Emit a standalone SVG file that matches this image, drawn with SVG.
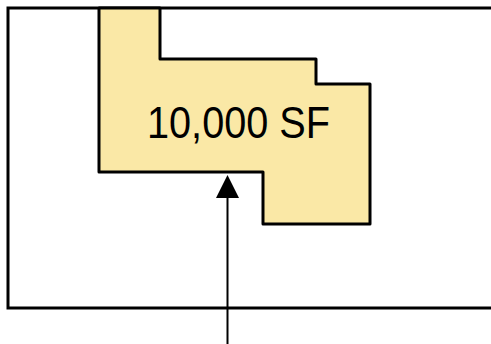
<svg xmlns="http://www.w3.org/2000/svg" width="491" height="344" viewBox="0 0 491 344">
<defs>
<style>
.bound{fill:#ffffff;stroke:#000;stroke-width:3}
.area{fill:#FAE8A6;stroke:#000;stroke-width:3;stroke-linejoin:round}
.lbl{font-family:"Liberation Sans",Arial,sans-serif;font-size:44px;fill:#000}
.conn{stroke:#000;stroke-width:2;fill:none}
</style>
<marker id="ah" viewBox="0 0 26 23" refX="0" refY="11.5" markerWidth="26" markerHeight="23" markerUnits="userSpaceOnUse" orient="auto">
<path d="M0,0 L23,11.5 L0,23 Z" fill="#000"/>
</marker>
</defs>
<g id="site">
<rect class="bound" x="8" y="8" width="490" height="300"/>
</g>
<g id="building">
<polygon class="area" points="99,8 160,8 160,59 316,59 316,84 370,84 370,224 263,224 263,172 99,172"/>
<text class="lbl" x="238.5" y="138" text-anchor="middle" textLength="183" lengthAdjust="spacingAndGlyphs">10,000 SF</text>
</g>
<g id="connectors">
<line class="conn" x1="227.5" y1="344" x2="227.5" y2="198" marker-end="url(#ah)"/>
</g>
</svg>
